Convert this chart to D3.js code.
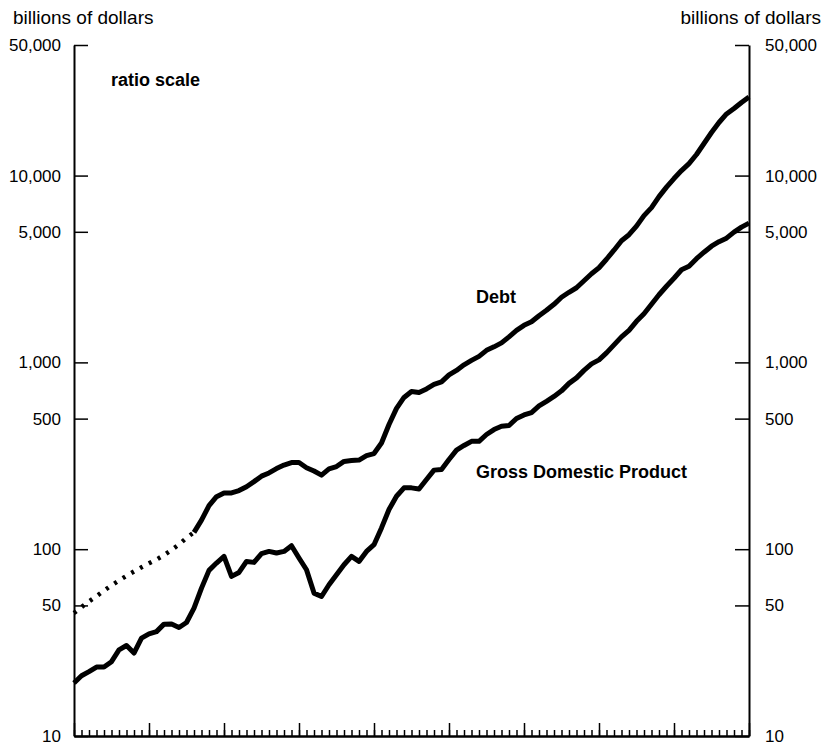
<!DOCTYPE html>
<html lang="en">
<head>
  <meta charset="UTF-8">
  <title>Debt and GDP</title>
  <script src="https://d3js.org/d3.v7.min.js"></script>
  <style>
    body { margin: 0; background: #fff; }
    svg { display: block; background: #fff; }
    text { font-family: "Liberation Sans", Arial, sans-serif; fill: #000; }
    .lbl { font-size: 19px; }
    .bold { font-size: 18px; font-weight: bold; }
  </style>
</head>
<body>
<svg width="830" height="745"></svg>
<script>
const years = d3.range(1900, 1991);

// total debt, billions of dollars (1900-1916 estimated, drawn dotted)
const debt = [
  45.5, 49, 52.5, 56, 60, 64, 68, 72, 76, 80, 84, 88, 93, 99, 106, 115, 123,
  143, 171, 191, 200, 200, 206, 216, 230, 246, 256, 270, 282, 291, 291, 273,
  262, 249, 269, 277, 295, 298, 300, 317, 325, 370, 465, 567, 649, 699, 690,
  721, 762, 786, 857, 906, 970, 1025, 1077, 1160, 1211, 1272, 1370, 1484, 1579, 1649,
  1776, 1900, 2046, 2231, 2373, 2509, 2735, 2982, 3211, 3566, 3986, 4482, 4826, 5360, 6103,
  6735, 7716, 8677, 9636, 10636, 11595, 12963, 14846, 17007, 19240, 21369, 22866, 24625, 26361
];
const dottedUntil = 1916;

const gdp = [
  19.2, 21.0, 22.1, 23.4, 23.4, 25.0, 28.9, 30.5, 27.8, 33.4,
  35.2, 36.2, 39.7, 39.8, 38.1, 40.5, 48.4, 61.9, 77.0, 84.3,
  91.5, 71.5, 75.1, 86.0, 85.0, 94.6, 97.3, 95.4, 97.3, 104.4,
  89.7, 77.6, 58.2, 55.8, 64.5, 73.0, 82.6, 91.5, 86.0, 97.3,
  105.7, 130, 163, 192, 213, 213, 210, 236, 265, 267,
  302, 339, 359, 378, 378, 411, 437, 455, 459, 501,
  523, 539, 585, 619, 657, 704, 772, 826, 906, 982,
  1031, 1124, 1241, 1370, 1484, 1659, 1820, 2046, 2301, 2556,
  2821, 3133, 3271, 3589, 3889, 4188, 4427, 4623, 4979, 5296,
  5564
];

const yTicks = [10, 50, 100, 500, 1000, 5000, 10000, 50000];
const decadeTicks = [1900, 1910, 1920, 1930, 1940, 1950, 1960, 1970, 1980, 1990];

const svg = d3.select("svg");
const plotLeft = 74, plotRight = 749, plotTop = 45, plotBottom = 736;

const x = d3.scaleLinear().domain([1900, 1990]).range([plotLeft, plotRight]);
const y = d3.scaleLog().domain([10, 50000]).range([plotBottom, plotTop]);

const styleAxis = g => {
  g.select(".domain").attr("stroke", "#000").attr("stroke-width", 2);
  g.selectAll(".tick line").attr("stroke", "#000").attr("stroke-width", 1.5);
  g.selectAll(".tick text")
    .attr("font-family", "'Liberation Sans', Arial, sans-serif")
    .attr("font-size", 17).attr("fill", "#000");
  g.attr("font-family", null).attr("font-size", null);
};

// left and right ratio-scale axes, ticks pointing inward
svg.append("g")
  .attr("transform", `translate(${plotLeft},0)`)
  .call(d3.axisLeft(y).tickValues(yTicks).tickFormat(d3.format(","))
    .tickSize(-14).tickSizeOuter(0).tickPadding(13))
  .call(styleAxis);

svg.append("g")
  .attr("transform", `translate(${plotRight},0)`)
  .call(d3.axisRight(y).tickValues(yTicks).tickFormat(d3.format(","))
    .tickSize(-14).tickSizeOuter(0).tickPadding(16))
  .call(styleAxis);

// bottom axis: yearly minor ticks, decade major ticks, pointing up
svg.append("g")
  .attr("transform", `translate(0,${plotBottom})`)
  .call(d3.axisTop(x).tickValues(years).tickFormat("").tickSize(6).tickSizeOuter(0))
  .call(styleAxis);

svg.append("g")
  .attr("transform", `translate(0,${plotBottom})`)
  .call(d3.axisTop(x).tickValues(decadeTicks).tickFormat("").tickSize(13).tickSizeOuter(0))
  .call(styleAxis);

const line = d3.line()
  .x(d => x(d.year))
  .y(d => y(d.value));

const debtPts = years.map((yr, i) => ({ year: yr, value: debt[i] }));
const gdpPts = years.map((yr, i) => ({ year: yr, value: gdp[i] }));

svg.append("path")
  .datum(debtPts.filter(d => d.year <= dottedUntil))
  .attr("d", line)
  .attr("fill", "none")
  .attr("stroke", "#000")
  .attr("stroke-width", 4.5)
  .attr("stroke-dasharray", "3,7");

svg.append("path")
  .datum(debtPts.filter(d => d.year >= dottedUntil))
  .attr("d", line)
  .attr("fill", "none")
  .attr("stroke", "#000")
  .attr("stroke-width", 5)
  .attr("stroke-linejoin", "round");

svg.append("path")
  .datum(gdpPts)
  .attr("d", line)
  .attr("fill", "none")
  .attr("stroke", "#000")
  .attr("stroke-width", 5)
  .attr("stroke-linejoin", "round");

// labels
svg.append("text").attr("class", "lbl").attr("x", 13).attr("y", 24).text("billions of dollars");
svg.append("text").attr("class", "lbl").attr("x", 821).attr("y", 24)
  .attr("text-anchor", "end").text("billions of dollars");
svg.append("text").attr("class", "bold").attr("x", 111).attr("y", 86).text("ratio scale");
svg.append("text").attr("class", "bold").attr("x", 476).attr("y", 303).text("Debt");
svg.append("text").attr("class", "bold").attr("x", 476).attr("y", 478).text("Gross Domestic Product");
</script>
</body>
</html>
